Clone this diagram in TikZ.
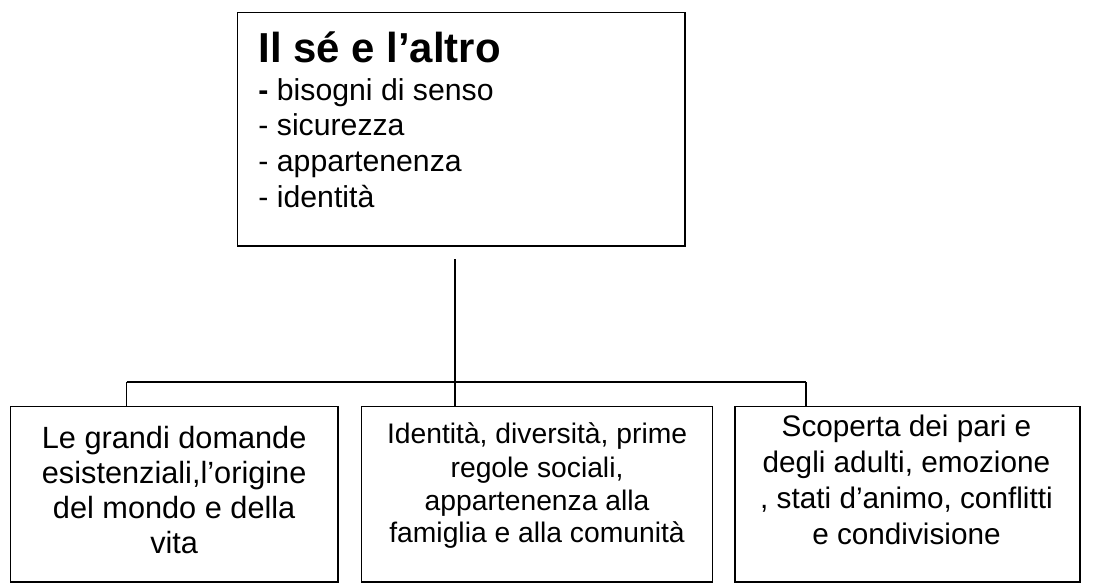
\documentclass[tikz,border=0pt]{standalone}
\usepackage{fontspec}
\setmainfont{Liberation Sans}
\begin{document}
\begin{tikzpicture}[x=1pt,y=-1pt,
  boxstyle/.style={draw=black, line width=1.6pt, inner sep=0pt, outer sep=0pt, anchor=north west},
  linkstyle/.style={draw=black, line width=1.6pt},
  titletxt/.style={anchor=base west, inner sep=0pt, font=\fontsize{43}{50}\selectfont\bfseries},
  listtxt/.style={anchor=base west, inner sep=0pt, font=\fontsize{31}{36}\selectfont},
  txta/.style={anchor=base, inner sep=0pt, font=\fontsize{31.5}{36}\selectfont},
  txtb/.style={anchor=base, inner sep=0pt, font=\fontsize{29}{34}\selectfont},
  txtc/.style={anchor=base, inner sep=0pt, font=\fontsize{30.5}{36}\selectfont}]
\useasboundingbox (0,0) rectangle (1129.6,602.3);
% boxes
\node[boxstyle, minimum width=459.5pt, minimum height=239.6pt] (top) at (243.5,12.7) {};
\node[boxstyle, minimum width=336pt, minimum height=180pt] (b1) at (10.7,417) {};
\node[boxstyle, minimum width=360pt, minimum height=180pt] (b2) at (371,417) {};
\node[boxstyle, minimum width=354pt, minimum height=180pt] (b3) at (754,417) {};
% top box text
\node[titletxt] (title) at (265,64) {Il sé e l’altro};
\node[listtxt] (l1) at (265,102.7) {\textbf{-} bisogni di senso};
\node[listtxt] (l2) at (265,139.3) {- sicurezza};
\node[listtxt] (l3) at (265,176) {- appartenenza};
\node[listtxt] (l4) at (265,212.7) {- identità};
% box 1 text
\node[txta] (a1) at (178.7,460) {Le grandi domande};
\node[txta] (a2) at (178.7,496) {esistenziali,l’origine};
\node[txta] (a3) at (178.7,532.3) {del mondo e della};
\node[txta] (a4) at (178.7,568.3) {vita};
% box 2 text
\node[txtb] (c1) at (551,455) {Identità, diversità, prime};
\node[txtb] (c2) at (551,490) {regole sociali,};
\node[txtb] (c3) at (551,523.3) {appartenenza alla};
\node[txtb] (c4) at (551,556.7) {famiglia e alla comunità};
% box 3 text
\node[txtc] (d1) at (930,448.3) {Scoperta dei pari e};
\node[txtc] (d2) at (930,485) {degli adulti, emozione};
\node[txtc] (d3) at (930,521.7) {, stati d’animo, conflitti};
\node[txtc] (d4) at (930,558.3) {e condivisione};
% connectors
\coordinate (vs) at (467,266);
\coordinate (hub) at (467,392);
\coordinate (hl) at (130,392);
\coordinate (hr) at (827,392);
\draw[linkstyle] (vs) -- (hub);
\draw[linkstyle] (hl) -- (hr);
\draw[linkstyle] (hl) -- (hl |- b1.north);
\draw[linkstyle] (hub) -- (hub |- b2.north);
\draw[linkstyle] (hr) -- (hr |- b3.north);
\end{tikzpicture}
\end{document}
